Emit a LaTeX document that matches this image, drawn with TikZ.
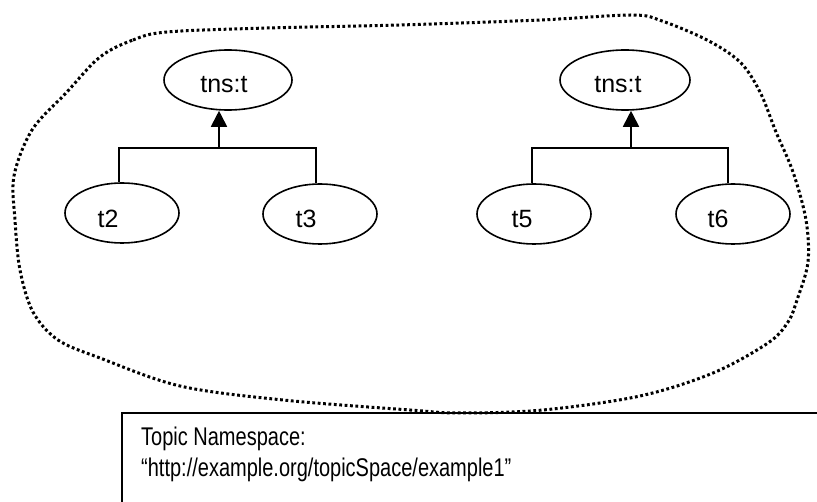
\documentclass[tikz,border=0pt]{standalone}
\usepackage{fontspec}
\usepackage{graphicx}
\setmainfont{Liberation Sans}
\usetikzlibrary{shapes.geometric,arrows.meta}
\newcommand{\tallt}[1]{\scalebox{1}[1.28]{#1}}
\begin{document}
\begin{tikzpicture}[x=1pt,y=-1pt,
  topic/.style={draw,line width=1.6pt,ellipse,minimum width=#1,minimum height=60pt,inner sep=0pt},
  topic/.default=114pt,
  lbl/.style={font=\fontsize{25}{28}\selectfont},
  conn/.style={line width=1.8pt},
  tip/.style={-{Triangle[width=16pt,length=16pt]}},
  blob/.style={line width=3pt,dash pattern=on 2.8pt off 2.6pt},
  nsbox/.style={draw,line width=1.8pt},
  nstext/.style={font=\fontsize{20}{30}\selectfont,align=left,anchor=north west,inner sep=0pt}]
\useasboundingbox (0,0) rectangle (817,502);
% blob
\draw[blob] plot[smooth cycle,tension=0.55] coordinates {
 (100,57) (133,40) (167,32) (267,28) (400,25) (540,20) (632,15) (662,21)
 (707,40) (740,62) (760,92) (776,132) (793,172) (806,220) (808,262)
 (797,300) (788,322) (768,343) (713,373) (640,396) (543,410) (460,413)
 (410,410) (283,400) (180,386) (100,358) (58,340) (33,312) (20,270)
 (15,220) (14,176) (32,130) (66,93)};
% box
\begin{scope}
\clip (0,0) rectangle (817,502);
\draw[nsbox] (122,413) rectangle (840,530);
\end{scope}
\node[nstext] (ns) at (141,427) {\tallt{Topic Namespace:}\\[1pt]\tallt{“http://example.org/topicSpace/example1”}};
% left tree
\node[topic=128pt] (p1) at (228,80) {};
\node[lbl] (p1l) at (224,85) {tns:t};
\node[topic] (t2) at (122,213) {};
\node[lbl] (t2l) at (108,219) {t2};
\node[topic] (t3) at (320,214) {};
\node[lbl] (t3l) at (306,219) {t3};
\coordinate (j1) at (219,148);
\draw[conn] (t2.north -| 119,0) |- (j1) -| (t3.north -| 316,0);
\draw[conn,tip] (j1) -- (j1 |- p1.south);
% right tree
\node[topic=130pt] (p2) at (625,80) {};
\node[lbl] (p2l) at (618,85) {tns:t};
\node[topic] (t5) at (534,214) {};
\node[lbl] (t5l) at (522,219) {t5};
\node[topic] (t6) at (733,214) {};
\node[lbl] (t6l) at (718,219) {t6};
\coordinate (j2) at (631,148);
\draw[conn] (t5.north -| 532,0) |- (j2) -| (t6.north -| 728,0);
\draw[conn,tip] (j2) -- (j2 |- p2.south);
\end{tikzpicture}
\end{document}
